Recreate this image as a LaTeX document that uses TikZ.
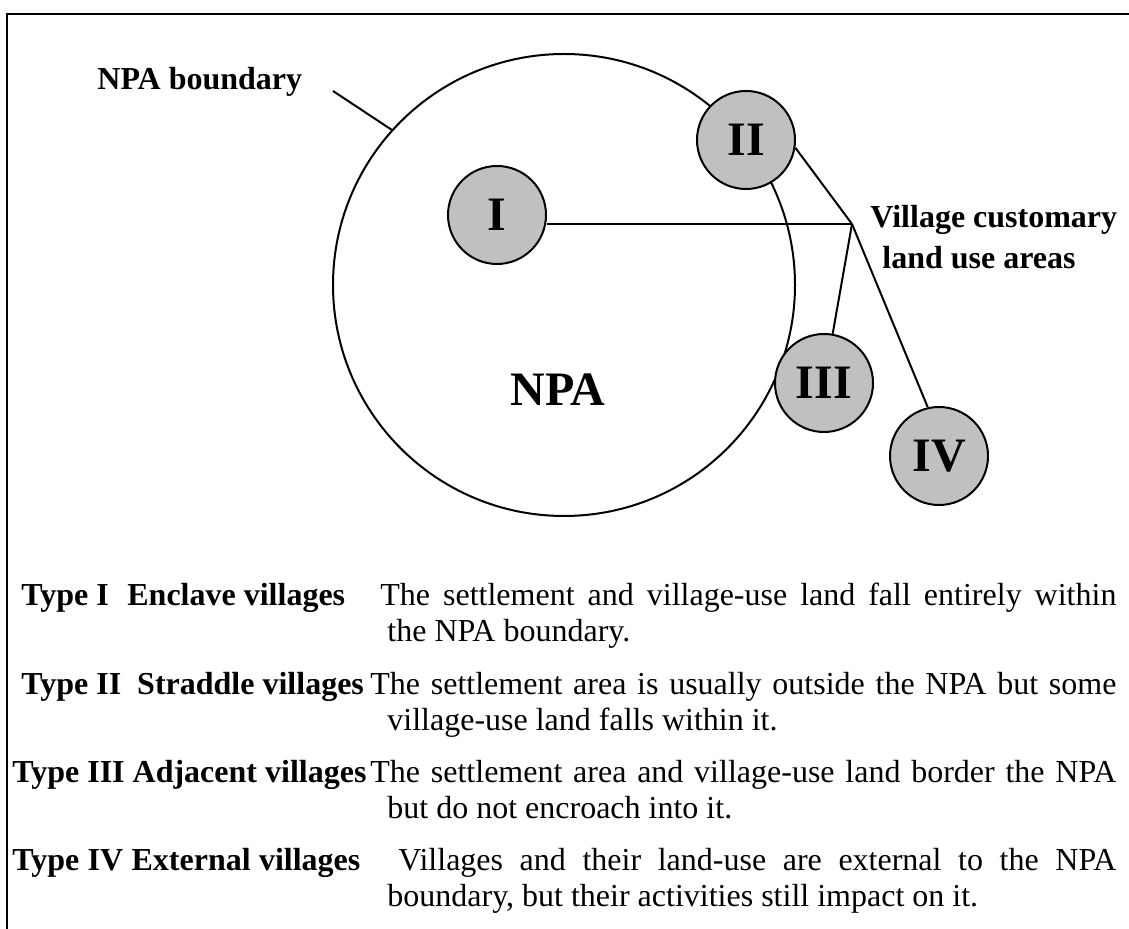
\documentclass[tikz,border=0pt]{standalone}
\usepackage{fontspec}
\setmainfont{Liberation Serif}
\definecolor{vgray}{HTML}{C0C0C0}
\begin{document}
\begin{tikzpicture}[x=0.5pt,y=-0.5pt]
\tikzset{
  village/.style={circle, draw, line width=1pt, fill=vgray, minimum size=49pt, inner sep=0pt,
    font=\fontsize{24}{28}\selectfont\bfseries},
  npacircle/.style={circle, draw, line width=1pt, minimum size=231pt, inner sep=0pt},
  conn/.style={line width=1pt},
  frame/.style={line width=1.35pt},
  lbl/.style={anchor=base west, inner sep=0pt, font=\fontsize{16}{19}\selectfont\bfseries},
  body/.style={anchor=base west, inner sep=0pt, font=\fontsize{16}{19}\selectfont},
  bigtxt/.style={inner sep=0pt, font=\fontsize{24}{28}\selectfont\bfseries}
}
\useasboundingbox (0,0) rectangle (1129,929);
% frame
\draw[frame] (1135,14) -- (7,14) -- (7,935);
% NPA circle
\node[npacircle] (npa) at (564,285) {};
\node[bigtxt] (npat) at (558,390) {NPA};
% villages
\node[village] (I) at (497,215) {I};
\node[village] (II) at (746,140) {II};
\node[village] (III) at (824,383) {III};
\node[village] (IV) at (939,456) {IV};
% connectors
\coordinate (hub) at (852,224);
\draw[conn] (hub) -- (hub -| I.east);
\draw[conn] (hub) -- (II.-9);
\draw[conn] (hub) -- (III);
\draw[conn] (hub) -- (IV.103);
\coordinate (nbp) at (333,91);
\draw[conn] (nbp) -- (npa.138);
% labels
\node[lbl] (nbl) at (97,90) {NPA boundary};
\node[lbl] (vc1) at (870,228) {Village customary};
\node[lbl] (vc2) at (882,269) {land use areas};
% legend rows
\node[lbl] (t1a) at (21,606) {Type I};
\node[lbl] (t1b) at (127,606) {Enclave villages};
\node[body] (d1a) at (380,606) {\makebox[368pt][s]{The settlement and village-use land fall entirely within}};
\node[body] (d1b) at (387,642) {the NPA boundary.};
\node[lbl] (t2) at (21,694) {Type II\ \ Straddle villages};
\node[body] (d2a) at (370,694) {\makebox[373pt][s]{The settlement area is usually outside the NPA but some}};
\node[body] (d2b) at (387,730) {village-use land falls within it.};
\node[lbl] (t3) at (12,782) {Type III Adjacent villages};
\node[body] (d3a) at (370,782) {\makebox[373pt][s]{The settlement area and village-use land border the NPA}};
\node[body] (d3b) at (387,818) {but do not encroach into it.};
\node[lbl] (t4) at (12,870) {\makebox[174pt][s]{Type IV External villages}};
\node[body] (d4a) at (398,870) {\makebox[359pt][s]{Villages and their land-use are external to the NPA}};
\node[body] (d4b) at (387,906) {boundary, but their activities still impact on it.};
\end{tikzpicture}
\end{document}
